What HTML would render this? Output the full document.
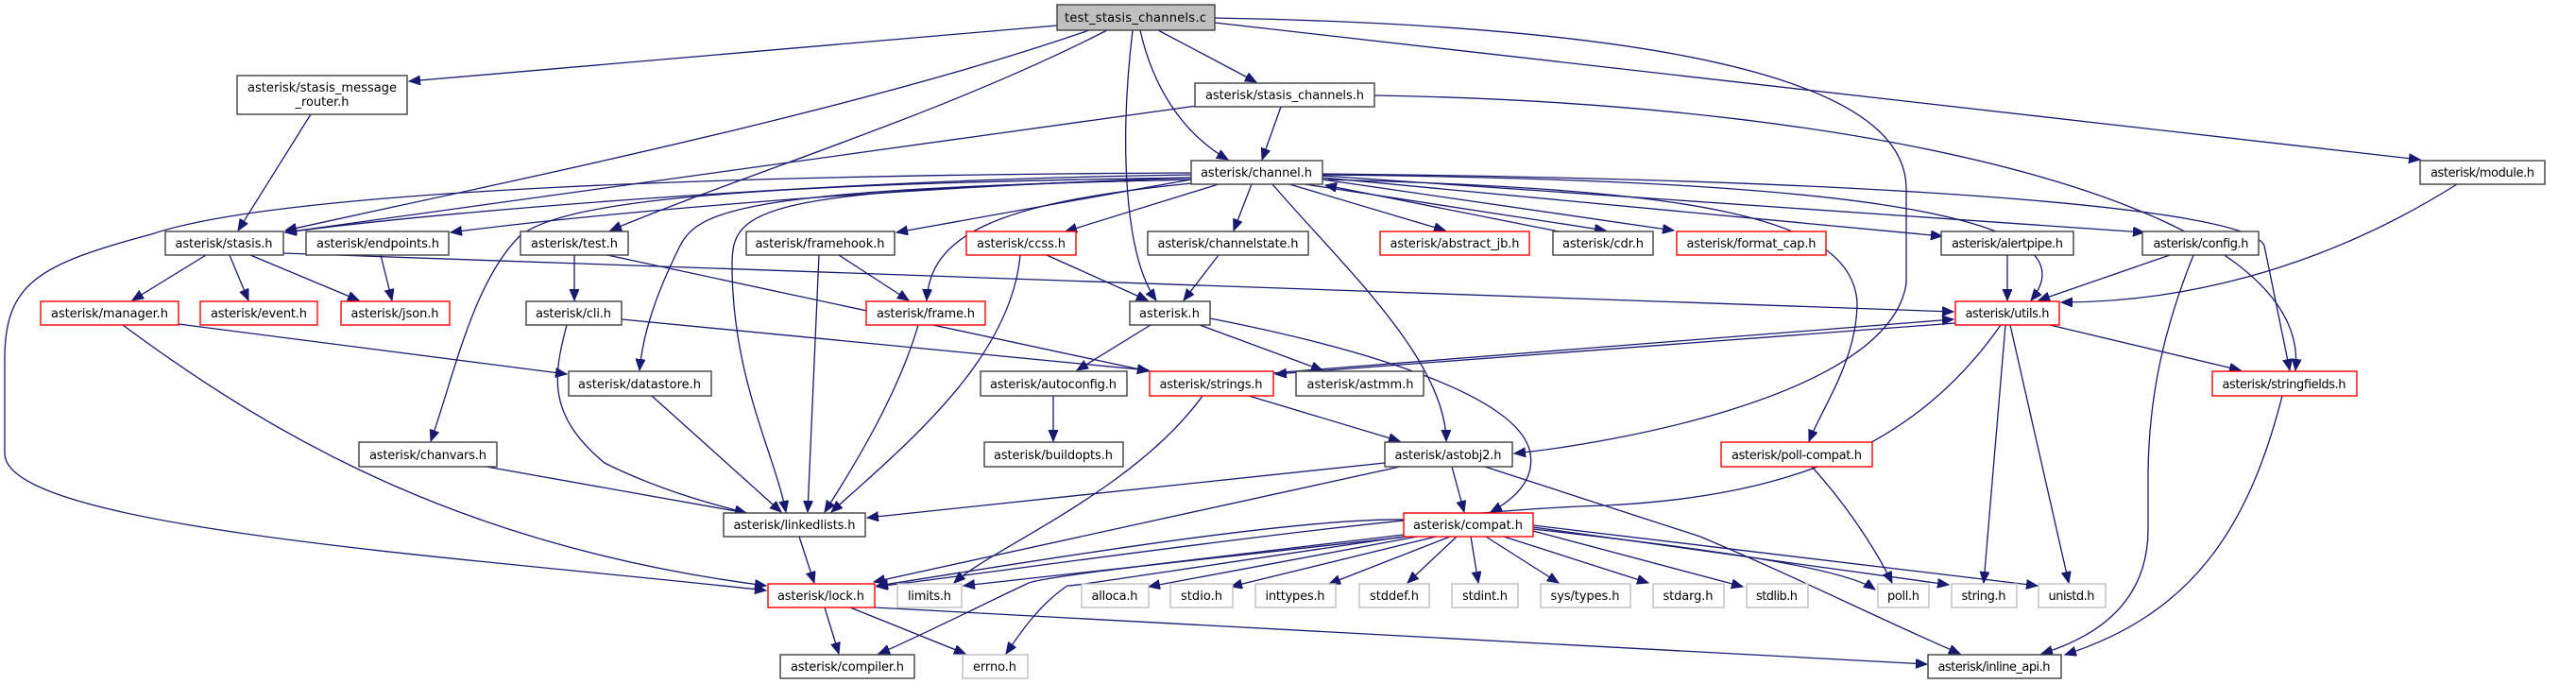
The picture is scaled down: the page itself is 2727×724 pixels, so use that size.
<!DOCTYPE html>
<html><head><meta charset="utf-8"><style>
html,body{margin:0;padding:0;background:#fff;}
svg{display:block;}
.n rect{fill:#fff;stroke:#404040;stroke-width:1.4;}
.r rect{stroke:#ff0000;}
.g rect{stroke:#bfbfbf;}
text{font-family:"DejaVu Sans","Liberation Sans",sans-serif;font-size:13px;fill:#000;text-anchor:middle;}
path.e{fill:none;stroke:#191970;stroke-width:1.3;marker-end:url(#a);}
</style></head><body>
<svg width="2727" height="724" viewBox="0 0 2727 724" xmlns="http://www.w3.org/2000/svg">
<defs><marker id="a" markerUnits="userSpaceOnUse" markerWidth="14" markerHeight="12" refX="12" refY="5" orient="auto"><path d="M0,0 L12,5 L0,10 z" fill="#191970" stroke="#191970"/></marker></defs>

<!-- edges -->
<path class="e" d="M1119,27 L433,86"/>
<path class="e" d="M1153,32 C900,120 500,200 302,244"/>
<path class="e" d="M1172,32 C1000,120 800,180 646,244"/>
<path class="e" d="M1199,32 C1185,150 1190,270 1224,318"/>
<path class="e" d="M1207,32 C1220,90 1250,140 1300,169"/>
<path class="e" d="M1226,32 L1330,87"/>
<path class="e" d="M1286,19 C1900,30 2018,120 2018,200 L2018,300 C2000,420 1700,470 1603,480"/>
<path class="e" d="M1286,24 L2562,169"/>
<path class="e" d="M1267,112 L302,246"/>
<path class="e" d="M1356,113 L1336,169"/>
<path class="e" d="M1455,101 C2000,110 2449,220 2430,392"/>
<path class="e" d="M329,121 L252,244"/>
<path class="e" d="M1261,185 C900,190 500,220 302,246"/>
<path class="e" d="M1261,188 C900,200 600,230 477,246"/>
<path class="e" d="M1261,183 C800,185 300,200 160,248 C40,280 5,300 5,380 L5,480 C5,560 500,590 811,625"/>
<path class="e" d="M1261,190 C800,200 775,220 775,280 C775,400 820,480 832,542"/>
<path class="e" d="M1261,190 C800,200 740,220 720,260 C690,320 680,360 677,392"/>
<path class="e" d="M1261,188 C800,195 600,210 550,250 C500,300 480,400 456,467"/>
<path class="e" d="M1261,190 L949,246"/>
<path class="e" d="M1262,194 C1050,215 985,250 981,318"/>
<path class="e" d="M1290,195 L1128,245"/>
<path class="e" d="M1325,195 L1306,244"/>
<path class="e" d="M1347,195 C1420,280 1530,380 1531,467"/>
<path class="e" d="M1365,195 L1530,244"/>
<path class="e" d="M1375,194 L1700,244"/>
<path class="e" d="M1650,245 L1403,196"/>
<path class="e" d="M1400,190 L1772,244"/>
<path class="e" d="M1400,188 L2056,250"/>
<path class="e" d="M1400,186 L2270,246"/>
<path class="e" d="M1400,185 C1900,190 2230,220 2150,318"/>
<path class="e" d="M1400,184 C2000,190 2380,220 2397,260 L2424,392"/>
<path class="e" d="M1400,190 C1800,200 1960,230 1966,320 C1966,380 1930,430 1915,467"/>
<path class="e" d="M300,268 L2068,330"/>
<path class="e" d="M218,270 L140,318"/>
<path class="e" d="M243,270 L263,318"/>
<path class="e" d="M265,270 L380,318"/>
<path class="e" d="M403,270 L415,318"/>
<path class="e" d="M608,270 L608,318"/>
<path class="e" d="M643,270 L1216,393"/>
<path class="e" d="M658,338 L1216,392"/>
<path class="e" d="M600,344 C585,400 580,440 640,490 C700,520 760,535 790,543"/>
<path class="e" d="M888,270 L962,318"/>
<path class="e" d="M867,270 L855,542"/>
<path class="e" d="M189,343 L600,396"/>
<path class="e" d="M130,344 C300,470 500,580 811,620"/>
<path class="e" d="M690,419 L827,542"/>
<path class="e" d="M515,494 L790,543"/>
<path class="e" d="M972,344 C950,420 900,500 873,542"/>
<path class="e" d="M1080,270 C1070,380 960,470 880,542"/>
<path class="e" d="M1108,270 L1215,318"/>
<path class="e" d="M1290,270 L1253,318"/>
<path class="e" d="M1218,344 L1140,392"/>
<path class="e" d="M1270,344 L1400,392"/>
<path class="e" d="M1281,337 C1450,370 1610,420 1620,480 C1625,510 1600,530 1578,542"/>
<path class="e" d="M1115,419 L1115,467"/>
<path class="e" d="M1273,419 C1200,520 1050,580 1010,617"/>
<path class="e" d="M1322,419 L1482,467"/>
<path class="e" d="M1345,395 L2068,338"/>
<path class="e" d="M2070,342 L1350,396"/>
<path class="e" d="M1466,490 L918,548"/>
<path class="e" d="M1482,494 L925,616"/>
<path class="e" d="M1537,494 L1550,542"/>
<path class="e" d="M1572,494 L1800,568 C1900,610 2000,660 2075,692"/>
<path class="e" d="M1486,550 C1350,548 1000,610 928,620"/>
<path class="e" d="M2118,344 C2030,470 1900,525 1700,535 C1500,540 1100,600 928,621"/>
<path class="e" d="M1486,566 C1200,600 1110,610 1089,617 C1040,640 960,680 930,692"/>
<path class="e" d="M1486,568 C1200,610 1140,620 1130,620 C1100,640 1080,670 1065,692"/>
<path class="e" d="M1490,568 L1020,620"/>
<path class="e" d="M1500,568 L1216,621"/>
<path class="e" d="M1520,568 L1303,621"/>
<path class="e" d="M1535,568 L1407,618"/>
<path class="e" d="M1542,568 L1490,617"/>
<path class="e" d="M1557,568 L1565,617"/>
<path class="e" d="M1573,568 L1650,617"/>
<path class="e" d="M1592,568 L1745,617"/>
<path class="e" d="M1623,562 L1845,621"/>
<path class="e" d="M1623,560 C1800,580 1950,600 1985,624"/>
<path class="e" d="M1623,558 L2063,619"/>
<path class="e" d="M1623,556 L2157,620"/>
<path class="e" d="M2123,344 L2100,617"/>
<path class="e" d="M2128,344 L2190,617"/>
<path class="e" d="M2170,344 L2372,392"/>
<path class="e" d="M1918,494 C1960,540 1990,590 2003,617"/>
<path class="e" d="M873,643 L888,692"/>
<path class="e" d="M900,643 L1022,692"/>
<path class="e" d="M926,643 L2040,703"/>
<path class="e" d="M846,568 L862,617"/>
<path class="e" d="M2297,270 L2158,318"/>
<path class="e" d="M2322,270 C2290,350 2275,420 2274,500 L2274,560 C2274,650 2200,680 2161,692"/>
<path class="e" d="M2416,419 C2380,560 2320,650 2186,693"/>
<path class="e" d="M2125,270 L2125,318"/>
<path class="e" d="M2601,195 C2450,290 2300,320 2182,320"/>

<!-- nodes -->
<g class="n"><rect x="1119" y="5" width="167" height="27" style="fill:#bfbfbf"/><text x="1202" y="23" textLength="150">test_stasis_channels.c</text></g>
<g class="n"><rect x="251" y="80" width="180" height="41"/><text x="341" y="97" textLength="158">asterisk/stasis_message</text><text x="341" y="112" textLength="57">_router.h</text></g>
<g class="n"><rect x="1265" y="88" width="190" height="25"/><text x="1360" y="105" textLength="168">asterisk/stasis_channels.h</text></g>
<g class="n"><rect x="1261" y="170" width="139" height="25"/><text x="1330" y="187" textLength="118">asterisk/channel.h</text></g>
<g class="n"><rect x="2562" y="170" width="132" height="25"/><text x="2628" y="187" textLength="110">asterisk/module.h</text></g>
<g class="n"><rect x="175" y="245" width="125" height="25"/><text x="237" y="262" textLength="103">asterisk/stasis.h</text></g>
<g class="n"><rect x="324" y="245" width="151" height="25"/><text x="400" y="262" textLength="130">asterisk/endpoints.h</text></g>
<g class="n"><rect x="551" y="245" width="114" height="25"/><text x="608" y="262" textLength="92">asterisk/test.h</text></g>
<g class="n"><rect x="790" y="245" width="157" height="25"/><text x="868" y="262" textLength="137">asterisk/framehook.h</text></g>
<g class="n r"><rect x="1023" y="245" width="116" height="25"/><text x="1081" y="262" textLength="94">asterisk/ccss.h</text></g>
<g class="n"><rect x="1215" y="245" width="170" height="25"/><text x="1300" y="262" textLength="149">asterisk/channelstate.h</text></g>
<g class="n r"><rect x="1461" y="245" width="158" height="25"/><text x="1540" y="262" textLength="137">asterisk/abstract_jb.h</text></g>
<g class="n"><rect x="1644" y="245" width="106" height="25"/><text x="1697" y="262" textLength="86">asterisk/cdr.h</text></g>
<g class="n r"><rect x="1775" y="245" width="158" height="25"/><text x="1854" y="262" textLength="137">asterisk/format_cap.h</text></g>
<g class="n"><rect x="2055" y="245" width="140" height="25"/><text x="2125" y="262" textLength="118">asterisk/alertpipe.h</text></g>
<g class="n"><rect x="2268" y="245" width="123" height="25"/><text x="2330" y="262" textLength="101">asterisk/config.h</text></g>
<g class="n r"><rect x="43" y="319" width="146" height="25"/><text x="116" y="336" textLength="124">asterisk/manager.h</text></g>
<g class="n r"><rect x="212" y="319" width="124" height="25"/><text x="274" y="336" textLength="102">asterisk/event.h</text></g>
<g class="n r"><rect x="361" y="319" width="115" height="25"/><text x="418" y="336" textLength="93">asterisk/json.h</text></g>
<g class="n"><rect x="557" y="319" width="101" height="25"/><text x="607" y="336" textLength="80">asterisk/cli.h</text></g>
<g class="n r"><rect x="917" y="319" width="126" height="25"/><text x="980" y="336" textLength="104">asterisk/frame.h</text></g>
<g class="n"><rect x="1196" y="319" width="85" height="25"/><text x="1238" y="336" textLength="64">asterisk.h</text></g>
<g class="n r"><rect x="2070" y="319" width="110" height="25"/><text x="2125" y="336" textLength="89">asterisk/utils.h</text></g>
<g class="n"><rect x="602" y="393" width="151" height="26"/><text x="677" y="411" textLength="130">asterisk/datastore.h</text></g>
<g class="n"><rect x="1038" y="393" width="155" height="26"/><text x="1115" y="411" textLength="134">asterisk/autoconfig.h</text></g>
<g class="n r"><rect x="1217" y="393" width="131" height="26"/><text x="1282" y="411" textLength="109">asterisk/strings.h</text></g>
<g class="n"><rect x="1372" y="393" width="135" height="26"/><text x="1440" y="411" textLength="113">asterisk/astmm.h</text></g>
<g class="n r"><rect x="2342" y="393" width="153" height="26"/><text x="2418" y="411" textLength="131">asterisk/stringfields.h</text></g>
<g class="n"><rect x="380" y="468" width="146" height="26"/><text x="453" y="486" textLength="124">asterisk/chanvars.h</text></g>
<g class="n"><rect x="1042" y="468" width="147" height="26"/><text x="1115" y="486" textLength="126">asterisk/buildopts.h</text></g>
<g class="n"><rect x="1466" y="468" width="135" height="26"/><text x="1533" y="486" textLength="113">asterisk/astobj2.h</text></g>
<g class="n r"><rect x="1822" y="468" width="160" height="26"/><text x="1902" y="486" textLength="138">asterisk/poll-compat.h</text></g>
<g class="n"><rect x="766" y="543" width="150" height="25"/><text x="841" y="560" textLength="129">asterisk/linkedlists.h</text></g>
<g class="n r"><rect x="1486" y="543" width="137" height="25"/><text x="1554" y="560" textLength="116">asterisk/compat.h</text></g>
<g class="n r"><rect x="813" y="618" width="113" height="25"/><text x="869" y="635" textLength="92">asterisk/lock.h</text></g>
<g class="n g"><rect x="950" y="618" width="68" height="25"/><text x="984" y="635" textLength="46">limits.h</text></g>
<g class="n g"><rect x="1145" y="618" width="71" height="25"/><text x="1180" y="635" textLength="49">alloca.h</text></g>
<g class="n g"><rect x="1239" y="618" width="66" height="25"/><text x="1272" y="635" textLength="44">stdio.h</text></g>
<g class="n g"><rect x="1329" y="618" width="85" height="25"/><text x="1371" y="635" textLength="63">inttypes.h</text></g>
<g class="n g"><rect x="1439" y="618" width="74" height="25"/><text x="1476" y="635" textLength="52">stddef.h</text></g>
<g class="n g"><rect x="1537" y="618" width="70" height="25"/><text x="1572" y="635" textLength="48">stdint.h</text></g>
<g class="n g"><rect x="1631" y="618" width="95" height="25"/><text x="1678" y="635" textLength="73">sys/types.h</text></g>
<g class="n g"><rect x="1750" y="618" width="75" height="25"/><text x="1787" y="635" textLength="53">stdarg.h</text></g>
<g class="n g"><rect x="1849" y="618" width="65" height="25"/><text x="1881" y="635" textLength="44">stdlib.h</text></g>
<g class="n g"><rect x="1988" y="618" width="54" height="25"/><text x="2015" y="635" textLength="34">poll.h</text></g>
<g class="n g"><rect x="2066" y="618" width="69" height="25"/><text x="2100" y="635" textLength="47">string.h</text></g>
<g class="n g"><rect x="2158" y="618" width="71" height="25"/><text x="2193" y="635" textLength="49">unistd.h</text></g>
<g class="n"><rect x="826" y="693" width="142" height="25"/><text x="897" y="710" textLength="120">asterisk/compiler.h</text></g>
<g class="n g"><rect x="1019" y="693" width="69" height="25"/><text x="1053" y="710" textLength="46">errno.h</text></g>
<g class="n"><rect x="2041" y="693" width="141" height="25"/><text x="2111" y="710" textLength="119">asterisk/inline_api.h</text></g>
</svg>
</body></html>
